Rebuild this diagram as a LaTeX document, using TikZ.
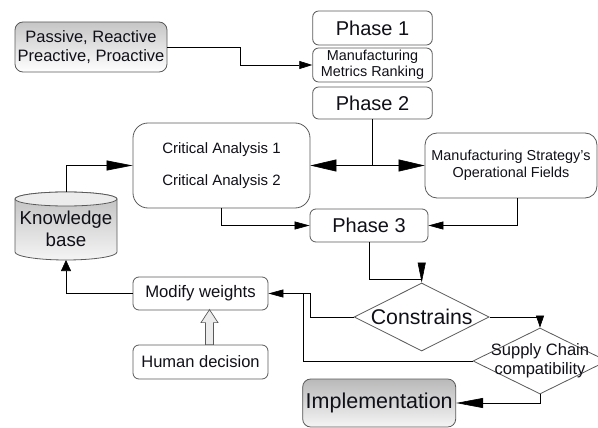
\documentclass[tikz,border=0pt]{standalone}
\usepackage{fontspec}
\setmainfont{Liberation Sans}
\usetikzlibrary{arrows.meta,shapes.geometric,calc}
\definecolor{edgegray}{HTML}{5A5A5A}
\definecolor{txt}{HTML}{101018}
\newcommand{\fs}[2]{\fontsize{#1pt}{#2pt}\selectfont}
\begin{document}
\begin{tikzpicture}[x=1pt,y=-1pt,
  box/.style={draw=edgegray, line width=0.8pt, rounded corners=6pt, inner sep=0pt, align=center, text=txt, fill=white},
  shadedbox/.style={box, top color=gray!45, bottom color=white},
  dia/.style={draw=edgegray, line width=0.8pt, diamond, inner sep=0pt, fill=white},
  conn/.style={draw=black, line width=0.6pt},
  tipA/.style={conn, -{Triangle[length=#1pt,width=8pt]}},
  tipB/.style={conn, -{Triangle[length=#1pt,width=10pt]}},
  hollow/.style={draw=edgegray, line width=0.7pt, fill=gray!15},
]
\useasboundingbox (0,0) rectangle (598,428);

% nodes
\node[shadedbox, rounded corners=8pt, minimum width=152pt, minimum height=50pt, font=\fs{16.5}{18.7}] (pa) at (91,47)
  {Passive, Reactive\\Preactive, Proactive};
\node[box, minimum width=119.6pt, minimum height=34pt, font=\fs{20}{24}] (p1) at (372.5,28) {Phase 1};
\node[box, minimum width=119.6pt, minimum height=34pt, font=\fs{14.4}{16}] (mmr) at (372.5,65)
  {Manufacturing\\Metrics Ranking};
\node[box, minimum width=119.6pt, minimum height=32pt, font=\fs{20}{24}] (p2) at (372.5,103) {Phase 2};
\node[box, rounded corners=15pt, minimum width=177pt, minimum height=85pt, font=\fs{15}{32}] (ca) at (221.5,165.5)
  {Critical Analysis 1\\Critical Analysis 2};
\node[box, rounded corners=12pt, minimum width=172pt, minimum height=65pt, font=\fs{14.4}{17}] (ms) at (511,165.5)
  {Manufacturing Strategy's\\Operational Fields};
\node[box, minimum width=118pt, minimum height=33pt, font=\fs{20}{24}] (p3) at (369,225.5) {Phase 3};

% knowledge base cylinder
\path[draw=edgegray, line width=0.8pt, top color=gray!50, bottom color=gray!8]
  (15,199) -- (15,252) arc[start angle=180, end angle=360, x radius=51pt, y radius=8pt]
  -- (117,199) arc[start angle=0, end angle=180, x radius=51pt, y radius=7pt] -- cycle;
\path[draw=edgegray, line width=0.8pt, fill=gray!15] (66,199) ellipse[x radius=51pt, y radius=7pt];
\node[align=center, inner sep=0pt, text=txt, font=\fs{18.7}{22}] (kb) at (66,229) {Knowledge\\base};
\coordinate (kbtop) at (66,192);
\coordinate (kbbot) at (66,260);

\node[box, minimum width=135pt, minimum height=33pt, font=\fs{16.7}{20}] (mw) at (200.5,293.5) {Modify weights};
\node[box, minimum width=135pt, minimum height=34pt, font=\fs{16.5}{20}] (hd) at (200.5,362) {Human decision};
\node[dia, minimum width=135pt, minimum height=68pt,
  label={[text=txt, inner sep=0pt, font=\fs{21.3}{24}]center:Constrains}] (con) at (421.7,317) {};
\node[dia, minimum width=134pt, minimum height=66pt,
  label={[text=txt, inner sep=0pt, align=center, font=\fs{16.5}{19}]center:Supply Chain\\compatibility}] (sc) at (540,361) {};
\node[shadedbox, top color=gray!55, bottom color=gray!8, rounded corners=8pt, minimum width=153pt, minimum height=48pt, font=\fs{21.5}{24}] (impl) at (379.2,403)
  {Implementation};

% connectors
\draw[tipA=13] (pa.east) -- ++(73,0) |- (mmr.west);
\draw[conn] (p2.south) -- (p2.south |- ca.east);
\draw[conn, {Triangle[length=26pt,width=12pt]}-{Triangle[length=26pt,width=12pt]}] (ca.east) -- (ms.west);
\draw[tipB=26] (kbtop) |- (ca.west);
\draw[tipA=15] (ca.south) |- (p3.west);
\draw[tipA=15] ([xshift=6pt]ms.south) |- (p3.east);
\draw[tipA=20] (p3.south) -- ++(0,37) -| (con.north);
\draw[tipA=12] (con.east) -| (sc.north);
\draw[tipA=15] (con.west) -- ++(-43.3,0) |- (mw.east);
\draw[conn] (sc.west) -| ([xshift=34.7pt]mw.east);
\draw[tipB=11] (mw.west) -| (kbbot);
\draw[tipB=27] (sc.south) |- (impl.east);

% hollow arrow
\draw[hollow] ([xshift=13pt]hd.north) -- ++(0,-22) -- ++(4.5,0) -- ++(-8.5,-13)
  -- ++(-8.5,13) -- ++(4.5,0) -- ++(0,22) -- cycle;
\end{tikzpicture}
\end{document}
